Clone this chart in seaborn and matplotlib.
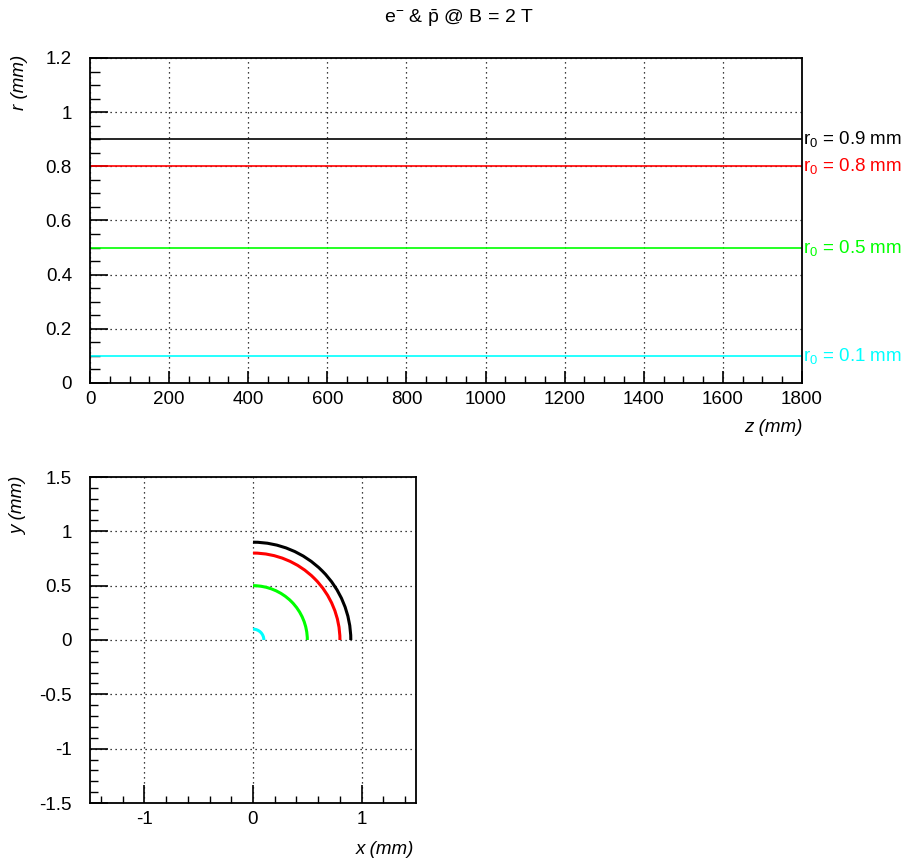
import numpy as np
import pandas as pd
import matplotlib
matplotlib.use("Agg")
import matplotlib.pyplot as plt
from matplotlib.patches import Arc
from matplotlib.ticker import MultipleLocator
import seaborn as sns

# ---- data ----
r0_values = [0.9, 0.8, 0.5, 0.1]
r0_colors = ["#000000", "#ff0000", "#00ff00", "#00ffff"]
r0_labels = ["r$_0$ = 0.9 mm", "r$_0$ = 0.8 mm", "r$_0$ = 0.5 mm", "r$_0$ = 0.1 mm"]
z_range = [0, 1800]
arc_angles = [0, 90]   # quarter turn seen in the x-y plane

sns.set_theme(style="white")
plt.rcParams["font.family"] = ["Liberation Sans", "DejaVu Sans"]
plt.rcParams["mathtext.fontset"] = "custom"
plt.rcParams["mathtext.rm"] = "Liberation Sans"
plt.rcParams["mathtext.it"] = "Liberation Sans:italic"
plt.rcParams["text.color"] = "black"
plt.rcParams["xtick.color"] = "black"
plt.rcParams["ytick.color"] = "black"
plt.rcParams["xtick.labelcolor"] = "black"
plt.rcParams["ytick.labelcolor"] = "black"

FS = 13.5
fig = plt.figure(figsize=(9.06, 8.59), dpi=100)
W, H = 906, 859


def px_axes(l, t, r, b):
    return fig.add_axes([l / W, 1 - b / H, (r - l) / W, (b - t) / H])


def root_style(ax, xmaj, xmin, ymaj, ymin, xlen, ylen):
    ax.xaxis.set_major_locator(MultipleLocator(xmaj))
    ax.xaxis.set_minor_locator(MultipleLocator(xmin))
    ax.yaxis.set_major_locator(MultipleLocator(ymaj))
    ax.yaxis.set_minor_locator(MultipleLocator(ymin))
    ax.tick_params(axis="x", which="major", direction="in", length=xlen[0],
                   width=1.2, color="black", labelcolor="black", labelsize=FS,
                   pad=6, bottom=True, top=False)
    ax.tick_params(axis="x", which="minor", direction="in", length=xlen[1],
                   width=1.0, color="black", bottom=True, top=False)
    ax.tick_params(axis="y", which="major", direction="in", length=ylen[0],
                   width=1.2, color="black", labelcolor="black", labelsize=FS,
                   pad=13, left=True, right=False)
    ax.tick_params(axis="y", which="minor", direction="in", length=ylen[1],
                   width=1.0, color="black", left=True, right=False)
    ax.grid(True, which="major", color="black", linestyle=(0, (1, 3)), linewidth=0.9)
    for s in ax.spines.values():
        s.set_color("black")
        s.set_linewidth(1.3)
    ax.set_xlabel("")
    ax.set_ylabel("")


# ---- top panel: r vs z ----
ax1 = px_axes(90, 58, 802, 383)
df = pd.DataFrame(
    [(z, r, lab) for r, lab in zip(r0_values, r0_labels) for z in z_range],
    columns=["z", "r", "label"],
)
sns.lineplot(data=df, x="z", y="r", hue="label", palette=dict(zip(r0_labels, r0_colors)),
             hue_order=r0_labels, legend=False, linewidth=1.2, ax=ax1)
ax1.set_xlim(z_range)
ax1.set_ylim(0, 1.2)
root_style(ax1, 200, 50, 0.2, 0.05, (9, 5), (13, 7))
ax1.set_yticks(np.arange(0, 1.21, 0.2))
ax1.set_yticklabels(["0", "0.2", "0.4", "0.6", "0.8", "1", "1.2"])
for r, lab, c in zip(r0_values, r0_labels, r0_colors):
    ax1.annotate(lab, xy=(1.0, r), xycoords=ax1.get_yaxis_transform(),
                 xytext=(1, 0), textcoords="offset points",
                 ha="left", va="center", color=c, fontsize=FS, annotation_clip=False)

fig.text(459 / W, 1 - 18 / H, r"e$^{-}$ & $\bar{\mathrm{p}}$ @ B = 2 T",
         ha="center", va="center", fontsize=14)
fig.text(802 / W, 1 - 427 / H, "z (mm)", fontstyle="italic", fontsize=FS,
         ha="right", va="center")
fig.text(19 / W, 1 - 55 / H, "r (mm)", fontstyle="italic", fontsize=FS,
         rotation=90, ha="center", va="top")

# ---- bottom panel: y vs x ----
ax2 = px_axes(90, 477, 416, 803)
for r, c in zip(r0_values, r0_colors):
    ax2.add_patch(Arc((0, 0), 2 * r, 2 * r, theta1=arc_angles[0], theta2=arc_angles[1],
                      color=c, linewidth=2.2))
ax2.set_xlim(-1.5, 1.5)
ax2.set_ylim(-1.5, 1.5)
root_style(ax2, 1.0, 0.2, 0.5, 0.1, (13, 5), (13, 6))
ax2.set_xticks([-1, 0, 1])
ax2.set_xticklabels(["-1", "0", "1"])
ax2.set_yticks([-1.5, -1, -0.5, 0, 0.5, 1, 1.5])
ax2.set_yticklabels(["-1.5", "-1", "-0.5", "0", "0.5", "1", "1.5"])
fig.text(414 / W, 1 - 850 / H, "x (mm)", fontstyle="italic", fontsize=FS,
         ha="right", va="center")
fig.text(19 / W, 1 - 477 / H, "y (mm)", fontstyle="italic", fontsize=FS,
         rotation=90, ha="center", va="top")

fig.savefig("out.png", dpi=100)
